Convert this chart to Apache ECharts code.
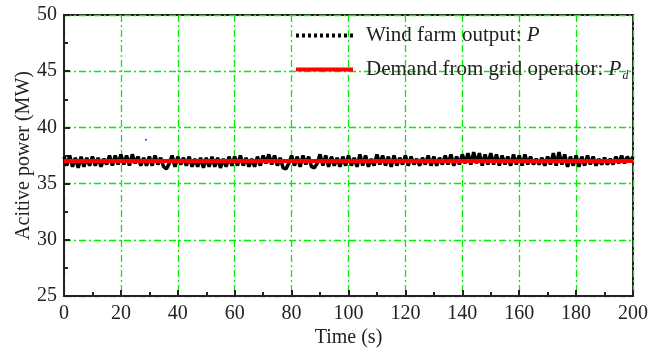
<!DOCTYPE html>
<html>
<head>
<meta charset="utf-8">
<script src="https://cdn.jsdelivr.net/npm/echarts@6/dist/echarts.min.js"></script>
<style>
  html, body { margin: 0; padding: 0; background: #fff; }
  #chart { width: 649px; height: 352px; }
</style>
</head>
<body>
<div id="chart"></div>
<script>
// wind farm output P (MW), one value per second, t = 0..200
var windOutput = [
    37.4, 36.6, 37.5, 36.5, 37.3, 36.4, 37.4, 36.5, 37.3, 36.6,
    37.4, 36.6, 37.3, 36.5, 37.2, 36.7, 37.5, 36.6, 37.5, 36.7,
    37.6, 36.7, 37.5, 36.6, 37.6, 36.8, 37.4, 36.6, 37.3, 36.6,
    37.4, 36.6, 37.5, 36.7, 37.3, 36.5, 36.3, 36.8, 37.5, 36.5,
    37.4, 36.7, 37.3, 36.6, 37.4, 36.5, 37.2, 36.5, 37.3, 36.4,
    37.3, 36.5, 37.4, 36.5, 37.3, 36.4, 37.2, 36.5, 37.4, 36.6,
    37.4, 36.6, 37.5, 36.6, 37.3, 36.5, 37.2, 36.5, 37.4, 36.6,
    37.5, 36.8, 37.6, 36.7, 37.5, 36.6, 37.3, 36.4, 36.3, 36.8,
    37.5, 36.6, 37.4, 36.5, 37.5, 36.7, 37.4, 36.5, 36.4, 36.8,
    37.6, 36.6, 37.5, 36.5, 37.4, 36.6, 37.3, 36.5, 37.4, 36.6,
    37.5, 36.6, 37.3, 36.5, 37.6, 36.6, 37.5, 36.5, 37.2, 36.6,
    37.6, 36.7, 37.5, 36.6, 37.4, 36.5, 37.5, 36.6, 37.3, 36.7,
    37.5, 36.6, 37.4, 36.7, 37.2, 36.6, 37.3, 36.7, 37.5, 36.6,
    37.4, 36.6, 37.3, 36.7, 37.5, 36.7, 37.6, 36.6, 37.4, 36.7,
    37.6, 36.8, 37.7, 36.7, 37.8, 36.8, 37.7, 36.6, 37.6, 36.7,
    37.7, 36.7, 37.6, 36.6, 37.5, 36.7, 37.4, 36.6, 37.6, 36.7,
    37.5, 36.6, 37.6, 36.7, 37.4, 36.7, 37.2, 36.7, 37.3, 36.6,
    37.4, 36.7, 37.7, 36.6, 37.8, 36.7, 37.6, 36.5, 37.4, 36.6,
    37.5, 36.5, 37.4, 36.6, 37.5, 36.7, 37.4, 36.6, 37.2, 36.7,
    37.3, 36.7, 37.2, 36.7, 37.4, 36.8, 37.5, 36.8, 37.4, 36.9,
    37.4
];
// demand from grid operator Pd (MW)
var demandTimes = [0, 200];
var demandValues = [37.0, 37.0];
// stray blue dot in the original figure
var strayPoint = [28.8, 38.9];

var xTicks = { min: 0, max: 200, interval: 20 };
var yTicks = { min: 25, max: 50, interval: 5 };

var windData = [];
for (var i = 0; i < windOutput.length; i++) {
    windData.push([i, windOutput[i]]);
}
var demandData = [];
for (var j = 0; j < demandTimes.length; j++) {
    demandData.push([demandTimes[j], demandValues[j]]);
}

var chart = echarts.init(document.getElementById('chart'));

var font = 'Liberation Serif';
var textColor = '#222';
var gridLine = { show: true, lineStyle: { color: '#00ee00', width: 1.3, type: [7, 3, 2, 3] } };

// legend icons: row of dots / solid bar
var dotsIcon = 'path://M0,0h3v4h-3z M6,0h3v4h-3z M12,0h3v4h-3z M18,0h3v4h-3z M24,0h3v4h-3z M30,0h3v4h-3z M36,0h3v4h-3z M42,0h3v4h-3z M48,0h3v4h-3z M54,0h3v4h-3z';
var barIcon = 'path://M0,0h58v4h-58z';

option = {
    animation: false,
    backgroundColor: '#fff',
    grid: {
        left: 64,
        right: 16,
        top: 15,
        bottom: 56,
        outerBoundsMode: 'none',
        containLabel: false,
        show: true,
        borderColor: '#222',
        borderWidth: 2
    },
    legend: {
        orient: 'vertical',
        left: 296,
        top: 25,
        padding: 0,
        itemWidth: 57,
        itemHeight: 4,
        itemGap: 13,
        data: [
            { name: 'Wind farm output', icon: dotsIcon },
            { name: 'Demand from grid operator', icon: barIcon }
        ],
        formatter: function (name) {
            if (name === 'Wind farm output')
                return '{n|Wind farm output: }{i|P}';
            return '{n|Demand from grid operator: }{i|P}{s|d}';
        },
        textStyle: {
            color: textColor,
            fontFamily: font,
            fontSize: 21,
            lineHeight: 21,
            padding: [0, 0, 0, 8],
            rich: {
                n: { fontFamily: font, fontSize: 21, color: textColor },
                i: { fontFamily: font, fontSize: 21, fontStyle: 'italic', color: textColor },
                s: { fontFamily: font, fontSize: 12, fontStyle: 'italic', color: textColor, padding: [12, 0, 0, 1] }
            }
        }
    },
    xAxis: {
        type: 'value',
        min: xTicks.min,
        max: xTicks.max,
        interval: xTicks.interval,
        name: 'Time (s)',
        nameLocation: 'middle',
        nameGap: 32,
        nameMoveOverlap: false,
        nameTextStyle: { fontFamily: font, fontSize: 20, color: textColor },
        axisLine: { lineStyle: { color: '#222', width: 2 } },
        axisTick: { inside: true, length: 6, lineStyle: { color: '#222', width: 2 } },
        minorTick: { show: true, splitNumber: 2, length: 4, lineStyle: { color: '#222', width: 2 } },
        axisLabel: { fontFamily: font, fontSize: 20, color: textColor, margin: 8 },
        splitLine: gridLine
    },
    yAxis: {
        type: 'value',
        min: yTicks.min,
        max: yTicks.max,
        interval: yTicks.interval,
        name: 'Acitive power (MW)',
        nameLocation: 'middle',
        nameGap: 30,
        nameMoveOverlap: false,
        nameTextStyle: { fontFamily: font, fontSize: 20, color: textColor },
        axisLine: { lineStyle: { color: '#222', width: 2 } },
        axisTick: { inside: true, length: 6, lineStyle: { color: '#222', width: 2 } },
        minorTick: { show: true, splitNumber: 2, length: 4, lineStyle: { color: '#222', width: 2 } },
        axisLabel: { fontFamily: font, fontSize: 20, color: textColor, margin: 7 },
        splitLine: gridLine
    },
    series: [{
        name: 'Wind farm output',
        type: 'line',
        symbol: 'none',
        data: windData,
        lineStyle: { color: '#000', width: 3.5 },
        itemStyle: { color: '#000' }
    }, {
        name: 'Demand from grid operator',
        type: 'line',
        symbol: 'none',
        data: demandData,
        lineStyle: { color: '#ff0000', width: 4 },
        itemStyle: { color: '#ff0000' }
    }, {
        name: 'stray',
        type: 'scatter',
        symbolSize: 2,
        data: [strayPoint],
        itemStyle: { color: '#0000ff' }
    }]
};

chart.setOption(option);
</script>
</body>
</html>
